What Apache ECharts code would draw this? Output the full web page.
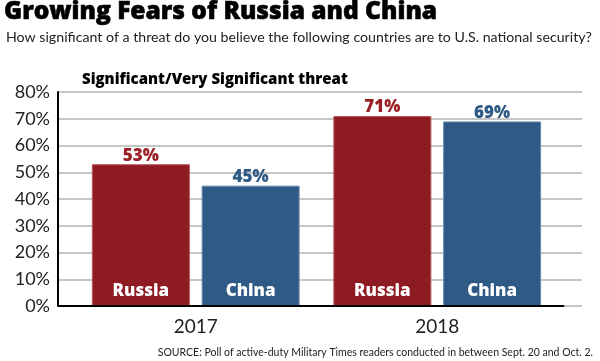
<!DOCTYPE html>
<html><head><meta charset="utf-8">
<script src="https://cdn.jsdelivr.net/npm/echarts@6/dist/echarts.min.js"></script>
<style>html,body{margin:0;padding:0;background:#fff}#c{width:600px;height:361px}</style>
</head><body><div id="c"></div>
<script>
var years = ['2017', '2018'];
var russia = [53, 71];
var china = [45, 69];
var yTicks = [0, 10, 20, 30, 40, 50, 60, 70, 80];

var FONT = 'Lato';
var BOLD = 'Open Sans';
var RED = '#8E1B21', BLUE = '#2F5A85';
var chart = echarts.init(document.getElementById('c'), null, {renderer: 'canvas'});

function nameLabel() {
  return {show: true, position: 'insideBottom', distance: 6, color: '#fff',
    fontFamily: BOLD, fontWeight: 800, fontSize: 17, formatter: '{a}'};
}
function valLabel(arr, col) {
  return {show: true, position: 'top', distance: 0, color: col,
    fontFamily: BOLD, fontWeight: 800, fontSize: 17,
    formatter: function (p) { return arr[p.dataIndex] + '%'; }};
}

chart.setOption({
  animation: false,
  title: [
    {text: 'Growing Fears of Russia and China', left: -1, top: -5,
      textStyle: {fontFamily: BOLD, fontWeight: 800, fontSize: 24.5, color: '#000',
        textBorderColor: '#000', textBorderWidth: 0.6}},
    {text: 'How significant of a threat do you believe the following countries are to U.S. national security?', left: 1, top: 25,
      textStyle: {fontFamily: FONT, fontWeight: 'normal', fontSize: 14.2, color: '#222'}},
    {text: 'Significant/Very Significant threat', left: 77, top: 67,
      textStyle: {fontFamily: BOLD, fontWeight: 800, fontSize: 15, color: '#000'}},
    {text: 'SOURCE: Poll of active-duty Military Times readers conducted in between Sept. 20 and Oct. 2.', right: 2, top: 342,
      textStyle: {fontFamily: FONT, fontWeight: 'normal', fontSize: 10.5, color: '#222'}}
  ],
  grid: [
    {left: 58, right: 18, top: 92, bottom: 55},
    {left: 75, right: 42, top: 92, bottom: 55}
  ],
  xAxis: [
    {gridIndex: 0, type: 'value', min: 0, max: 1, show: true,
      axisLine: {show: false}, axisTick: {show: false}, axisLabel: {show: false}, splitLine: {show: false}},
    {gridIndex: 1, type: 'category', data: years,
      axisLine: {show: false}, axisTick: {show: false},
      axisLabel: {margin: 11, fontFamily: FONT, fontSize: 19, color: '#222'}}
  ],
  yAxis: [
    {gridIndex: 0, type: 'value', min: yTicks[0], max: yTicks[yTicks.length - 1], interval: 10,
      axisLine: {show: true, lineStyle: {color: '#000', width: 2}},
      axisTick: {show: false},
      axisLabel: {margin: 8, fontFamily: FONT, fontSize: 18, color: '#222', formatter: '{value}%'},
      splitLine: {show: true, lineStyle: {color: '#b3b3b3', width: 1.5}}},
    {gridIndex: 1, type: 'value', min: yTicks[0], max: yTicks[yTicks.length - 1], interval: 10, show: false}
  ],
  series: [
    {name: 'Russia', type: 'bar', xAxisIndex: 1, yAxisIndex: 1, stack: 'r', data: russia,
      barWidth: 98, barGap: '12%',
      itemStyle: {color: RED, borderColor: '#b8565a', borderWidth: 1}, label: nameLabel()},
    {name: 'RussiaV', type: 'bar', xAxisIndex: 1, yAxisIndex: 1, stack: 'r', data: russia.map(function () { return 0; }),
      barWidth: 98, itemStyle: {color: 'transparent'}, label: valLabel(russia, '#9A2026')},
    {name: 'China', type: 'bar', xAxisIndex: 1, yAxisIndex: 1, stack: 'c', data: china,
      barWidth: 98,
      itemStyle: {color: BLUE, borderColor: '#6b8db0', borderWidth: 1}, label: nameLabel()},
    {name: 'ChinaV', type: 'bar', xAxisIndex: 1, yAxisIndex: 1, stack: 'c', data: china.map(function () { return 0; }),
      barWidth: 98, itemStyle: {color: 'transparent'}, label: valLabel(china, '#2F5A85')},
    {name: 'base', type: 'line', xAxisIndex: 0, yAxisIndex: 0, data: [[0, 0], [0.966, 0]],
      symbol: 'none', silent: true, lineStyle: {color: '#000', width: 2}, z: 5}
  ]
});
</script></body></html>
